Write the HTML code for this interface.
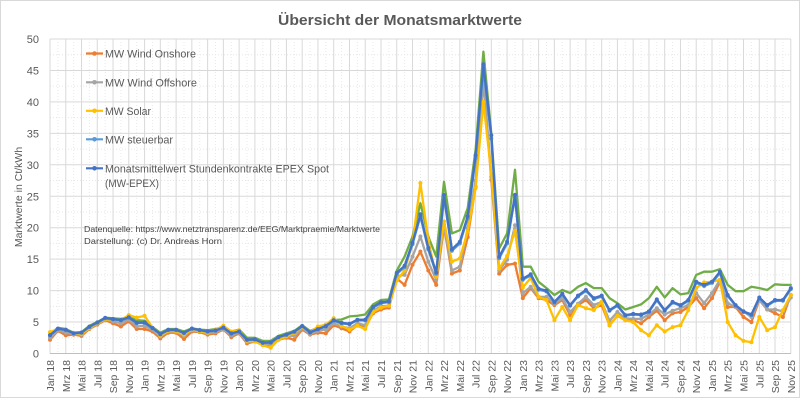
<!DOCTYPE html>
<html>
<head>
<meta charset="utf-8">
<style>
html,body{margin:0;padding:0;background:#ffffff;}
svg{display:block;font-family:"Liberation Sans",Arial,sans-serif;}
.yl{font-size:11px;fill:#595959;text-anchor:end;}
.xl{font-size:10.5px;fill:#595959;text-anchor:end;}
.lg{font-size:11px;fill:#595959;}
.src{font-size:8.6px;fill:#404040;}
</style>
</head>
<body>
<svg id="chart" width="800" height="400" viewBox="0 0 800 400" xmlns="http://www.w3.org/2000/svg">
<rect x="0" y="0" width="800" height="400" fill="#ffffff"/>
<rect x="0.5" y="0.5" width="799" height="397" fill="#ffffff" stroke="#d9d9d9" stroke-width="1"/>
<g id="grid"></g>
<text x="400" y="25" text-anchor="middle" font-size="14.5" font-weight="bold" fill="#595959" textLength="244" lengthAdjust="spacingAndGlyphs">Übersicht der Monatsmarktwerte</text>

<!-- y labels -->
<text class="yl" x="39" y="357.5">0</text>
<text class="yl" x="39" y="326">5</text>
<text class="yl" x="39" y="294.6">10</text>
<text class="yl" x="39" y="263.2">15</text>
<text class="yl" x="39" y="231.7">20</text>
<text class="yl" x="39" y="200.3">25</text>
<text class="yl" x="39" y="168.8">30</text>
<text class="yl" x="39" y="137.4">35</text>
<text class="yl" x="39" y="105.9">40</text>
<text class="yl" x="39" y="74.5">45</text>
<text class="yl" x="39" y="43">50</text>

<text transform="translate(22,197) rotate(-90)" text-anchor="middle" font-size="10.5" fill="#595959">Marktwerte in Ct/kWh</text>

<!-- x labels -->
<g class="xl">
<text transform="translate(54,360) rotate(-90)">Jan 18</text>
<text transform="translate(69.8,360) rotate(-90)">Mrz 18</text>
<text transform="translate(85.5,360) rotate(-90)">Mai 18</text>
<text transform="translate(101.3,360) rotate(-90)">Jul 18</text>
<text transform="translate(117,360) rotate(-90)">Sep 18</text>
<text transform="translate(132.8,360) rotate(-90)">Nov 18</text>
<text transform="translate(148.6,360) rotate(-90)">Jan 19</text>
<text transform="translate(164.3,360) rotate(-90)">Mrz 19</text>
<text transform="translate(180.1,360) rotate(-90)">Mai 19</text>
<text transform="translate(195.9,360) rotate(-90)">Jul 19</text>
<text transform="translate(211.6,360) rotate(-90)">Sep 19</text>
<text transform="translate(227.4,360) rotate(-90)">Nov 19</text>
<text transform="translate(243.1,360) rotate(-90)">Jan 20</text>
<text transform="translate(258.9,360) rotate(-90)">Mrz 20</text>
<text transform="translate(274.7,360) rotate(-90)">Mai 20</text>
<text transform="translate(290.4,360) rotate(-90)">Jul 20</text>
<text transform="translate(306.2,360) rotate(-90)">Sep 20</text>
<text transform="translate(322,360) rotate(-90)">Nov 20</text>
<text transform="translate(337.7,360) rotate(-90)">Jan 21</text>
<text transform="translate(353.5,360) rotate(-90)">Mrz 21</text>
<text transform="translate(369.2,360) rotate(-90)">Mai 21</text>
<text transform="translate(385,360) rotate(-90)">Jul 21</text>
<text transform="translate(400.8,360) rotate(-90)">Sep 21</text>
<text transform="translate(416.5,360) rotate(-90)">Nov 21</text>
<text transform="translate(432.3,360) rotate(-90)">Jan 22</text>
<text transform="translate(448,360) rotate(-90)">Mrz 22</text>
<text transform="translate(463.8,360) rotate(-90)">Mai 22</text>
<text transform="translate(479.6,360) rotate(-90)">Jul 22</text>
<text transform="translate(495.3,360) rotate(-90)">Sep 22</text>
<text transform="translate(511.1,360) rotate(-90)">Nov 22</text>
<text transform="translate(526.9,360) rotate(-90)">Jan 23</text>
<text transform="translate(542.6,360) rotate(-90)">Mrz 23</text>
<text transform="translate(558.4,360) rotate(-90)">Mai 23</text>
<text transform="translate(574.1,360) rotate(-90)">Jul 23</text>
<text transform="translate(589.9,360) rotate(-90)">Sep 23</text>
<text transform="translate(605.7,360) rotate(-90)">Nov 23</text>
<text transform="translate(621.4,360) rotate(-90)">Jan 24</text>
<text transform="translate(637.2,360) rotate(-90)">Mrz 24</text>
<text transform="translate(652.9,360) rotate(-90)">Mai 24</text>
<text transform="translate(668.7,360) rotate(-90)">Jul 24</text>
<text transform="translate(684.5,360) rotate(-90)">Sep 24</text>
<text transform="translate(700.2,360) rotate(-90)">Nov 24</text>
<text transform="translate(716,360) rotate(-90)">Jan 25</text>
<text transform="translate(731.7,360) rotate(-90)">Mrz 25</text>
<text transform="translate(747.5,360) rotate(-90)">Mai 25</text>
<text transform="translate(763.3,360) rotate(-90)">Jul 25</text>
<text transform="translate(779,360) rotate(-90)">Sep 25</text>
<text transform="translate(794.8,360) rotate(-90)">Nov 25</text>
</g>

<g id="series"></g>

<!-- legend -->
<g>
<line x1="86" y1="53.5" x2="103" y2="53.5" stroke="#ED7D31" stroke-width="2.2"/><circle cx="94.5" cy="53.5" r="2.3" fill="#ED7D31"/>
<text class="lg" x="105" y="57.5" textLength="91" lengthAdjust="spacingAndGlyphs">MW Wind Onshore</text>
<line x1="86" y1="82.3" x2="103" y2="82.3" stroke="#A5A5A5" stroke-width="2.2"/><circle cx="94.5" cy="82.3" r="2.3" fill="#A5A5A5"/>
<text class="lg" x="105" y="86.3" textLength="92" lengthAdjust="spacingAndGlyphs">MW Wind Offshore</text>
<line x1="86" y1="110.8" x2="103" y2="110.8" stroke="#FFC000" stroke-width="2.2"/><circle cx="94.5" cy="110.8" r="2.3" fill="#FFC000"/>
<text class="lg" x="105" y="114.8" textLength="46" lengthAdjust="spacingAndGlyphs">MW Solar</text>
<line x1="86" y1="139.3" x2="103" y2="139.3" stroke="#5B9BD5" stroke-width="2.2"/><circle cx="94.5" cy="139.3" r="2.3" fill="#5B9BD5"/>
<text class="lg" x="105" y="143.3" textLength="68" lengthAdjust="spacingAndGlyphs">MW steuerbar</text>
<line x1="86" y1="168.3" x2="103" y2="168.3" stroke="#4472C4" stroke-width="2.2"/><circle cx="94.5" cy="168.3" r="2.3" fill="#4472C4"/>
<text class="lg" x="105" y="172.3" textLength="224" lengthAdjust="spacingAndGlyphs">Monatsmittelwert Stundenkontrakte EPEX Spot</text>
<text class="lg" x="105" y="186.8" textLength="54" lengthAdjust="spacingAndGlyphs">(MW-EPEX)</text>
</g>

<text class="src" x="84" y="232" textLength="296" lengthAdjust="spacingAndGlyphs">Datenquelle: https://www.netztransparenz.de/EEG/Marktpraemie/Marktwerte</text>
<text class="src" x="84" y="244" textLength="138" lengthAdjust="spacingAndGlyphs">Darstellung: (c) Dr. Andreas Horn</text>
</svg>

<script>
(function(){
var NS="http://www.w3.org/2000/svg";
var X0=50, DX=7.8808, Y0=353.5, SY=6.29;
function X(i){return X0+DX*i;}
function Y(v){return Y0-SY*v;}
var grid=document.getElementById('grid');
function el(tag,attrs,parent){var e=document.createElementNS(NS,tag);for(var k in attrs)e.setAttribute(k,attrs[k]);parent.appendChild(e);return e;}
for(var h=0;h<=20;h++){
  var v=h*2.5, y=Y(v);
  if(h%2==0){el('line',{x1:X0,x2:X(94),y1:y,y2:y,stroke:'#d9d9d9','stroke-width':1},grid);}
  else{el('line',{x1:X0,x2:X(94),y1:y,y2:y,stroke:'#e6e6e6','stroke-width':1,'stroke-dasharray':'1,2'},grid);}
}
for(var i=0;i<=94;i++){
  var x=X(i);
  if(i%2==0){el('line',{x1:x,x2:x,y1:Y(50),y2:Y0,stroke:'#d9d9d9','stroke-width':1},grid);}
  else{el('line',{x1:x,x2:x,y1:Y(50),y2:Y0,stroke:'#e9e9e9','stroke-width':1,'stroke-dasharray':'1,2'},grid);}
}
el('line',{x1:X0,x2:X(94),y1:Y0,y2:Y0,stroke:'#bfbfbf','stroke-width':1},grid);

var blue=[2.93,3.96,3.77,3.22,3.34,4.28,4.95,5.66,5.49,5.32,5.75,4.89,
4.94,4.06,3.08,3.78,3.76,3.29,3.97,3.73,3.51,3.68,4.11,3.19,
3.50,2.19,2.25,1.71,1.76,2.62,3.01,3.48,4.37,3.39,3.88,4.35,
5.28,4.88,4.72,5.37,5.35,7.41,8.14,8.28,12.84,13.95,17.62,22.13,
16.79,12.88,25.20,16.57,17.75,21.81,31.50,46.0,34.7,15.37,17.76,25.22,
11.9,12.6,10.3,10.0,8.2,9.5,7.7,9.2,10.1,8.8,9.2,6.9,
7.7,6.1,6.3,6.2,6.7,8.6,6.9,8.2,7.7,8.5,11.4,10.9,
11.4,13.0,9.3,7.7,6.7,6.2,8.9,7.7,8.5,8.5,10.4];
var green=[3.1,4.1,3.9,3.3,3.4,4.4,5.0,5.7,5.6,5.5,5.8,5.3,
5.2,4.2,3.3,3.9,3.9,3.5,4.0,3.8,3.7,3.9,4.2,3.5,
3.8,2.5,2.5,2.0,2.0,2.8,3.2,3.6,4.5,3.6,4.1,4.6,
5.3,5.4,5.9,6.0,6.2,7.8,8.5,8.6,13.2,15.4,18.6,23.9,
18.6,15.4,27.3,19.1,19.6,23.1,32.4,48.0,35.0,16.7,19.1,29.2,
13.8,13.8,11.4,10.4,9.3,10.1,9.6,10.6,11.2,10.4,10.4,8.8,
8.0,7.0,7.4,7.8,8.8,10.6,8.9,10.4,9.4,9.6,12.5,13.0,
13.0,13.4,10.9,9.9,9.9,10.6,10.4,10.1,11.0,10.9,10.9];
var yellow=[3.4,3.9,3.8,3.1,3.1,4.0,4.8,5.4,5.4,5.3,6.1,5.7,
6.0,4.1,2.8,3.6,3.5,3.0,3.8,3.5,3.3,3.8,4.4,3.5,
3.7,2.0,1.9,1.3,0.9,2.2,2.7,3.3,4.2,3.4,4.3,4.6,
5.6,4.4,3.8,4.4,3.9,6.6,7.3,7.6,11.6,13.2,17.5,27.1,
18.0,12.2,21.0,14.6,15.1,19.4,26.3,40.0,28.6,13.5,15.5,19.5,
10.5,12.0,9.0,8.5,5.3,7.4,5.3,7.7,7.2,6.9,8.2,4.5,
6.0,5.3,5.0,3.7,2.9,4.5,3.5,4.2,4.5,6.9,10.4,11.3,
11.4,11.7,5.0,2.9,2.0,1.8,5.8,3.7,4.2,6.9,9.3];
var orange=[2.2,3.6,2.9,3.0,2.8,3.9,4.6,5.3,4.8,4.3,5.1,3.9,
3.9,3.5,2.4,3.3,3.3,2.3,3.5,3.4,3.0,3.2,3.8,2.6,
3.2,1.6,1.9,1.5,1.2,2.2,2.5,2.2,3.8,3.0,3.3,3.2,
4.5,4.0,3.5,4.5,4.2,6.4,7.0,7.3,11.9,10.9,14.1,16.2,
13.2,10.9,20.2,12.7,13.2,18.5,26.5,43.5,27.6,12.7,14.1,14.3,
8.8,10.4,8.8,8.5,7.7,8.5,6.1,7.7,8.5,7.2,7.7,4.5,
6.0,5.3,5.3,4.8,5.8,6.8,5.3,6.4,6.6,7.4,8.8,7.2,
8.8,11.4,7.4,7.4,5.8,5.0,8.5,7.0,6.4,5.8,9.3];
var gray=[2.5,3.7,3.3,3.1,3.0,4.0,4.7,5.4,5.1,4.8,5.4,4.3,
4.4,3.8,2.7,3.5,3.5,2.8,3.7,3.5,3.2,3.4,3.9,2.9,
3.3,1.8,2.0,1.6,1.4,2.4,2.7,2.8,4.0,3.1,3.6,3.8,
4.8,4.3,4.0,4.8,4.5,6.8,7.5,7.6,12.3,12.5,15.4,18.6,
14.6,11.7,20.5,13.2,13.8,19.9,27.5,44.0,28.1,13.2,14.9,20.4,
9.6,10.6,9.0,9.0,7.9,8.8,6.6,7.9,9.0,7.7,8.2,5.2,
6.6,5.6,5.5,5.5,6.2,7.2,6.2,6.8,7.2,7.7,9.6,8.0,
9.6,11.7,8.0,7.4,6.7,5.8,8.5,7.0,7.0,6.7,8.9];
var lblue=blue.map(function(v){return v*0.985;});

var sg=document.getElementById('series');
function draw(data,color,markers){
  var pts=data.map(function(v,i){return X(i).toFixed(1)+','+Y(v).toFixed(1);}).join(' ');
  el('polyline',{points:pts,fill:'none',stroke:color,'stroke-width':2.3,'stroke-linejoin':'round','stroke-linecap':'round'},sg);
  if(markers){for(var i=0;i<data.length;i++){el('circle',{cx:X(i).toFixed(1),cy:Y(data[i]).toFixed(1),r:2,fill:color},sg);}}
}
draw(green,'#70AD47',false);
draw(orange,'#ED7D31',true);
draw(gray,'#A5A5A5',true);
draw(yellow,'#FFC000',true);
draw(lblue,'#5B9BD5',true);
draw(blue,'#4472C4',true);
})();
</script>
</body>
</html>
